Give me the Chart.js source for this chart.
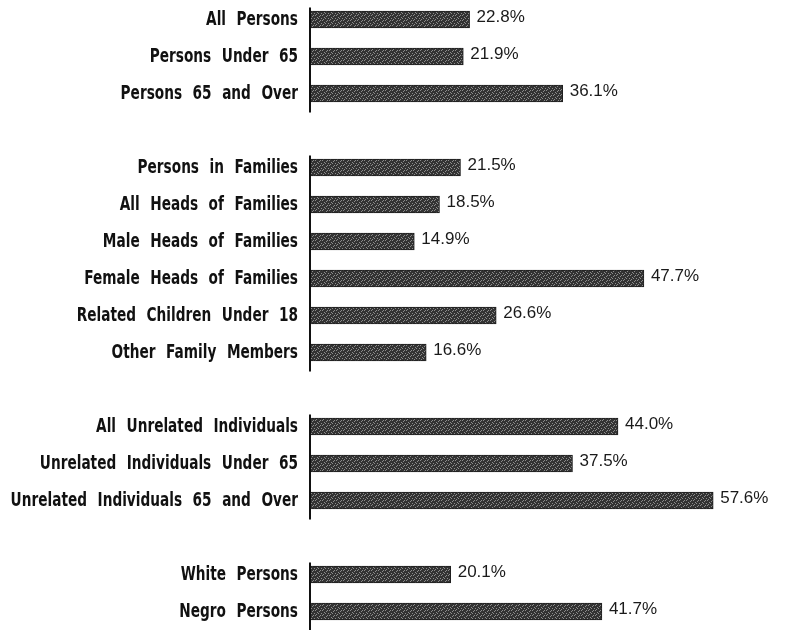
<!DOCTYPE html>
<html>
<head>
<meta charset="utf-8">
<script src="https://cdn.jsdelivr.net/npm/chart.js@4"></script>
<style>
  body { margin: 0; background: #fff; }
</style>
</head>
<body>
<canvas id="povChart" width="793" height="630"></canvas>
<script>
// rows; empty strings are the gaps between groups
var categories = [
    'All Persons', 'Persons Under 65', 'Persons 65 and Over', '',
    'Persons in Families', 'All Heads of Families', 'Male Heads of Families',
    'Female Heads of Families', 'Related Children Under 18', 'Other Family Members', '',
    'All Unrelated Individuals', 'Unrelated Individuals Under 65', 'Unrelated Individuals 65 and Over', '',
    'White Persons', 'Negro Persons'
];
var rates = [
    22.8, 21.9, 36.1, null,
    21.5, 18.5, 14.9, 47.7, 26.6, 16.6, null,
    44.0, 37.5, 57.6, null,
    20.1, 41.7
];
// first and last row of each group (for the axis segments)
var groupRows = [[0, 2], [4, 9], [11, 13], [15, 16]];

// stippled grey fill like the printed bars
var pc = document.createElement('canvas');
pc.width = 7; pc.height = 5;
var p = pc.getContext('2d');
p.fillStyle = '#333';
p.fillRect(0, 0, 7, 5);
p.fillStyle = '#8c8c8c';
[[0,0],[4,1],[2,2],[6,3],[1,4],[5,0],[3,3]].forEach(function (d) { p.fillRect(d[0], d[1], 1, 1); });

var ctx = document.getElementById('povChart').getContext('2d');
var barFill = ctx.createPattern(pc, 'repeat');

// condensed row labels + the separate axis segment for each group
var groupAxis = {
    id: 'groupAxis',
    afterDraw: function (chart) {
        var y = chart.scales.y, x = chart.scales.x;
        var c = chart.ctx;
        c.save();
        c.strokeStyle = '#111';
        c.lineWidth = 2;
        groupRows.forEach(function (g) {
            var top = y.getPixelForValue(g[0]) - 12;
            var bot = y.getPixelForValue(g[1]) + 19;
            c.beginPath();
            c.moveTo(x.left, top);
            c.lineTo(x.left, bot);
            c.stroke();
        });
        c.restore();

        c.save();
        c.font = 'bold 19px "DejaVu Sans", sans-serif';
        c.wordSpacing = '8px';
        c.fillStyle = '#111';
        c.textAlign = 'right';
        c.textBaseline = 'middle';
        categories.forEach(function (lab, i) {
            if (!lab) return;
            c.save();
            c.translate(x.left - 12, y.getPixelForValue(i) + 1);
            c.scale(0.72, 1);
            c.fillText(lab, 0, 0);
            c.restore();
        });
        c.restore();
    }
};

var valueLabels = {
    id: 'valueLabels',
    afterDatasetsDraw: function (chart) {
        var c = chart.ctx;
        var meta = chart.getDatasetMeta(0);
        c.save();
        c.font = '17px "Liberation Sans", Arial, sans-serif';
        c.fillStyle = '#1a1a1a';
        c.textBaseline = 'middle';
        meta.data.forEach(function (bar, i) {
            if (rates[i] == null) return;
            c.fillText(rates[i].toFixed(1) + '%', bar.x + 7, bar.y - 2);
        });
        c.restore();
    }
};

var myChart = new Chart(ctx, {
    type: 'bar',
    data: {
        labels: categories,
        datasets: [{
            data: rates,
            backgroundColor: barFill,
            borderColor: '#1e1e1e',
            borderWidth: 1,
            borderSkipped: false,
            barThickness: 17
        }]
    },
    plugins: [groupAxis, valueLabels],
    options: {
        indexAxis: 'y',
        responsive: false,
        animation: false,
        layout: { padding: { top: 1 } },
        plugins: {
            legend: { display: false },
            tooltip: { enabled: false }
        },
        scales: {
            x: {
                display: false,
                min: 0,
                max: 69
            },
            y: {
                afterFit: function (scale) { scale.width = 310; },
                grid: { display: false },
                border: { display: false },
                ticks: { display: false }
            }
        }
    }
});
</script>
</body>
</html>
